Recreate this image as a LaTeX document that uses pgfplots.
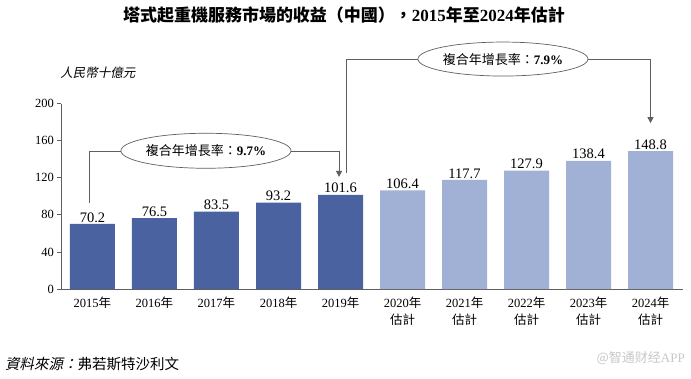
\documentclass[border=0pt]{standalone}
\usepackage{pgfplots}
\pgfplotsset{compat=1.18}
\usepackage{fontspec}
\usetikzlibrary{arrows.meta,shapes.geometric}
\setmainfont{Liberation Serif}
\newfontfamily\cjk{Noto Sans CJK TC}
\newfontfamily\cjkit[FakeSlant=0.2]{Noto Sans CJK TC}
\newfontfamily\cjksc{Noto Sans CJK SC}
\definecolor{darkbar}{RGB}{74,99,160}
\definecolor{lightbar}{RGB}{160,177,213}
\definecolor{axgray}{RGB}{95,95,95}
\pgfplotstableread{
x y
0 70.2
1 76.5
2 83.5
3 93.2
4 101.6
}\actual
\pgfplotstableread{
x y
5 106.4
6 117.7
7 127.9
8 138.4
9 148.8
}\forecast
\begin{document}
\begin{tikzpicture}
\useasboundingbox (-61pt,-89pt) rectangle (630pt,289pt);
\begin{axis}[
  at={(0pt,0pt)}, anchor=south west, scale only axis,
  width=622pt, height=185.3pt,
  xmin=-0.508, xmax=9.524, ymin=0, ymax=200,
  axis x line*=bottom, axis y line*=left,
  axis line style={axgray, line width=0.8pt},
  ytick={0,40,...,200},
  xtick={0,...,9},
  xticklabels={2015{\cjk 年},2016{\cjk 年},2017{\cjk 年},2018{\cjk 年},2019{\cjk 年},
    2020{\cjk 年}\\{\cjk 估計},2021{\cjk 年}\\{\cjk 估計},2022{\cjk 年}\\{\cjk 估計},2023{\cjk 年}\\{\cjk 估計},2024{\cjk 年}\\{\cjk 估計}},
  xticklabel style={align=center, font=\fontsize{12.5}{17}\selectfont, yshift=-1pt},
  yticklabel style={font=\fontsize{12.5}{14}\selectfont},
  /pgf/number format/assume math mode=true,
  x tick style={draw=none},
  y tick style={axgray, line width=0.8pt},
  tick align=outside, major tick length=3.5pt,
  clip=false,
  bar width=45pt,
  nodes near coords,
  every node near coord/.append style={font=\fontsize{14.5}{16}\selectfont, text=black, inner sep=1.5pt},
  nodes near coords style={/pgf/number format/.cd, fixed, fixed zerofill, precision=1, assume math mode=true},
]
\addplot[ybar, bar shift=0pt, fill=darkbar, draw=none] table[x=x,y=y] {\actual};
\addplot[ybar, bar shift=0pt, fill=lightbar, draw=none] table[x=x,y=y] {\forecast};

\draw[axgray, line width=0.7pt, -{Triangle[length=6pt,width=6pt]}]
  (axis cs:-0.056,92.8) |- (axis cs:3.976,148.9) -- (axis cs:3.976,121);
\node[ellipse, draw=axgray, line width=0.7pt, fill=white, minimum width=164pt, minimum height=35pt, inner sep=0pt,
  font=\fontsize{13}{15}\selectfont] at (axis cs:1.83,149.2) {{\cjk 複合年增長率：}\textbf{9.7\%}};

\draw[axgray, line width=0.7pt, -{Triangle[length=6pt,width=6pt]}]
  (axis cs:4.09,125.2) |- (axis cs:9.0,248.2) -- (axis cs:9.0,179);
\node[ellipse, draw=axgray, line width=0.7pt, fill=white, minimum width=166pt, minimum height=34pt, inner sep=0pt,
  font=\fontsize{13}{15}\selectfont] at (axis cs:6.62,248.2) {{\cjk 複合年增長率：}\textbf{7.9\%}};
\end{axis}
\node[font=\fontsize{17}{19}\selectfont] at (283pt,274pt) {{\cjk\bfseries 塔式起重機服務市場的收益（中國），}\textbf{2015}{\cjk\bfseries 年至}\textbf{2024}{\cjk\bfseries 年估計}};
\node[font=\fontsize{12.5}{14}\selectfont] at (37pt,216pt) {\cjkit 人民幣十億元};
\node[anchor=west, font=\fontsize{14.5}{16}\selectfont, inner sep=0pt] at (-56pt,-75pt) {{\cjkit 資料來源：}{\cjk 弗若斯特沙利文}};
\node[anchor=east, font=\fontsize{13}{15}\selectfont, inner sep=0pt, text=black!22] at (624pt,-69pt) {{\cjksc @智通财经}APP};
\end{tikzpicture}
\end{document}
